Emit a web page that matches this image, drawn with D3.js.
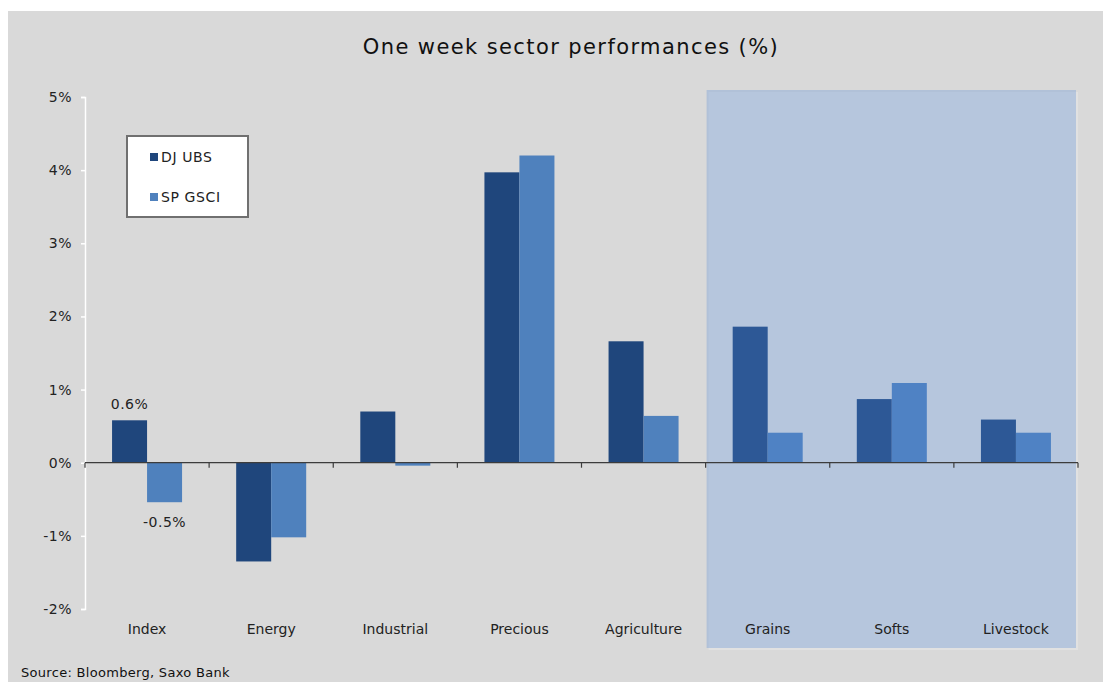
<!DOCTYPE html>
<html><head><meta charset="utf-8">
<script src="https://cdn.jsdelivr.net/npm/d3@7"></script>
<style>body{margin:0;background:#fff;}svg{display:block;}</style>
</head><body>
<svg id="c" width="1103" height="682"></svg>
<script>
const categories = ["Index","Energy","Industrial","Precious","Agriculture","Grains","Softs","Livestock"];
const seriesNames = ["DJ UBS","SP GSCI"];
const djUbs  = [0.58,-1.35,0.70,3.97,1.66,1.86,0.87,0.59];
const spGsci = [-0.54,-1.02,-0.04,4.20,0.64,0.41,1.09,0.41];
const yTicks = [-2,-1,0,1,2,3,4,5];
const shadedCategories = ["Grains","Softs","Livestock"];
const labelled = [{cat:"Index", series:0},{cat:"Index", series:1}];

(function(){
const colors = ["#1f467c","#4f81bd"];
const font = "'DejaVu Sans', Verdana, sans-serif";
const svg = d3.select("#c");
const W = 1103, H = 682;
const mLeft = 85, mRight = 1078, mTop = 97, mBottom = 609;
const fmt = d3.formatLocale({decimal:".", thousands:",", grouping:[3], currency:["",""], minus:"-"}).format(".1f");

svg.append("rect").attr("x",8).attr("y",11).attr("width",W-8).attr("height",H-11).attr("fill","#d9d9d9");

const data = categories.map((c,i)=>({cat:c, vals:[djUbs[i], spGsci[i]]}));

const x = d3.scaleBand().domain(categories).range([mLeft,mRight]).paddingInner(0.436).paddingOuter(0.218);
const xs = d3.scaleBand().domain([0,1]).range([0,x.bandwidth()]);
const y = d3.scaleLinear().domain([-2,5]).range([mBottom,mTop]);

// shaded region geometry
const sx0 = x(shadedCategories[0]) - x.step()*x.paddingInner()/2 + 1;
const sx1 = x(shadedCategories[shadedCategories.length-1]) + x.bandwidth() + x.step()*x.paddingInner()/2 - 2;
// faint shadow behind
svg.append("rect").attr("x",sx0+2).attr("y",92).attr("width",sx1-sx0).attr("height",558)
  .attr("fill","#e6e6e6").attr("opacity",0.6);

// title
svg.append("text").attr("x",571).attr("y",54).attr("text-anchor","middle")
  .attr("font-family",font).attr("font-size",21).attr("letter-spacing",1.4).attr("fill","#111")
  .text("One week sector performances (%)");

// y axis (white)
const ya = svg.append("g").attr("transform",`translate(${mLeft},0)`)
  .call(d3.axisLeft(y).tickValues(yTicks).tickSize(4).tickPadding(9).tickFormat(d=>d+"%"));
ya.select(".domain").attr("stroke","#fff").attr("stroke-width",1.5);
ya.selectAll(".tick line").attr("stroke","#fff").attr("stroke-width",1.5);
ya.selectAll("text").attr("font-family",font).attr("font-size",14).attr("fill","#222").attr("letter-spacing",0.5);

// bars
const g = svg.append("g");
g.selectAll("g.grp").data(data).join("g").attr("class","grp")
  .attr("transform",d=>`translate(${x(d.cat)},0)`)
  .selectAll("rect").data(d=>d.vals.map((v,k)=>({v,k}))).join("rect")
  .attr("x",d=>xs(d.k)).attr("width",xs.bandwidth())
  .attr("y",d=>y(Math.max(0,d.v))).attr("height",d=>Math.abs(y(d.v)-y(0)))
  .attr("fill",d=>colors[d.k]);

// shaded region overlay
svg.append("rect").attr("x",sx0).attr("y",90).attr("width",sx1-sx0).attr("height",558)
  .attr("fill","rgb(80,136,212)").attr("fill-opacity",0.29);

// zero line with category ticks
const xa = svg.append("g").attr("transform",`translate(0,${y(0)})`);
xa.append("line").attr("x1",mLeft).attr("x2",mRight).attr("stroke","#3c3c3c").attr("stroke-width",1.3);
const bounds = d3.range(categories.length+1).map(i=>mLeft + i*x.step());
xa.selectAll("line.b").data(bounds).join("line").attr("class","b")
  .attr("x1",d=>d).attr("x2",d=>d).attr("y1",0).attr("y2",5).attr("stroke","#3c3c3c").attr("stroke-width",1.2);

// category labels
svg.selectAll("text.cat").data(categories).join("text").attr("class","cat")
  .attr("x",d=>x(d)+x.bandwidth()/2).attr("y",634).attr("text-anchor","middle")
  .attr("font-family",font).attr("font-size",14).attr("fill","#222").text(d=>d);

// data labels
labelled.forEach(l=>{
  const i = categories.indexOf(l.cat);
  const v = data[i].vals[l.series];
  const cx = x(l.cat) + xs(l.series) + xs.bandwidth()/2;
  svg.append("text").attr("x",cx).attr("y", v>=0 ? y(v)-11 : y(v)+25).attr("text-anchor","middle")
    .attr("font-family",font).attr("font-size",14).attr("fill","#222").attr("letter-spacing",0.5)
    .text(fmt(v)+"%");
});

// legend
const lg = svg.append("g");
lg.append("rect").attr("x",127).attr("y",136).attr("width",121).attr("height",81)
  .attr("fill","#fff").attr("stroke","#707070").attr("stroke-width",2);
seriesNames.forEach((s,k)=>{
  lg.append("rect").attr("x",150).attr("y",153+k*40).attr("width",8).attr("height",8).attr("fill",colors[k]);
  lg.append("text").attr("x",161).attr("y",162+k*40).attr("font-family",font).attr("font-size",14)
    .attr("letter-spacing",0.6).attr("fill","#222").text(s);
});

// source
svg.append("text").attr("x",21).attr("y",677).attr("font-family",font).attr("font-size",13)
  .attr("letter-spacing",0.3).attr("fill","#111").text("Source: Bloomberg, Saxo Bank");
})();
</script>
</body></html>
